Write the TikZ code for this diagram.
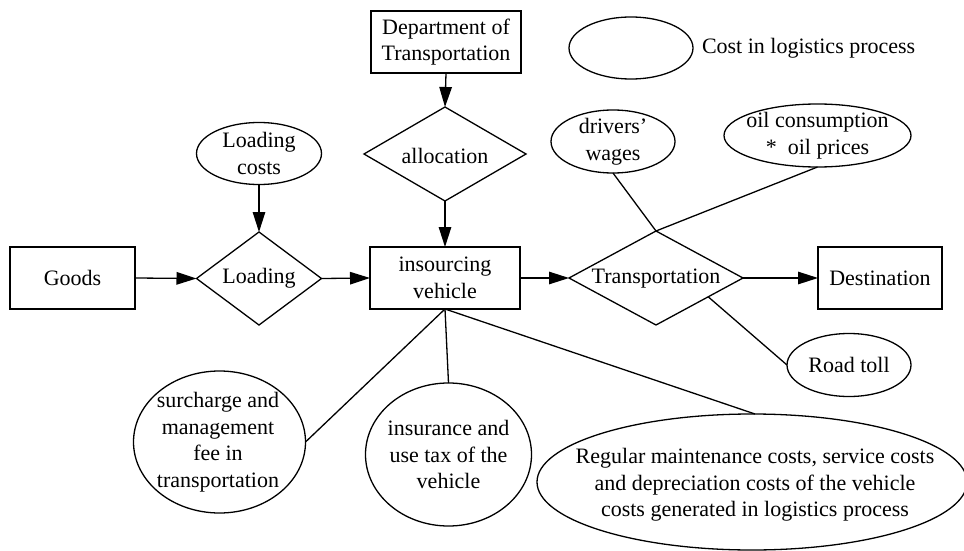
\documentclass[tikz,border=0pt]{standalone}
\usepackage{fontspec}
\setmainfont{Liberation Serif}
\usetikzlibrary{shapes.geometric,arrows.meta,calc}
\begin{document}
\begin{tikzpicture}[x=1pt,y=-1pt,
  every node/.style={inner sep=0pt, outer sep=0pt},
  base/.style={draw=black, line width=1.3pt},
  boxnode/.style={base, rectangle},
  ellnode/.style={base, ellipse},
  dianode/.style={base, diamond},
  txt/.style={align=center, font=\fontsize{22}{26.5}\selectfont},
  arr/.style={line width=1.3pt, -{Triangle[length=20pt,width=12.5pt]}},
  link/.style={line width=1.3pt}]
\useasboundingbox (0,0) rectangle (964,551);

% top row
\node[boxnode, txt, minimum width=150pt, minimum height=62pt] (dept) at (446,42) {Department of\\Transportation};
\node[ellnode, minimum width=124pt, minimum height=62pt] (legend) at (631,48) {};
\node[txt, anchor=west] (legendtxt) at (702,48) {Cost in logistics process};

% second row
\node[ellnode, minimum width=125pt, minimum height=62pt] (lcost) at (259,153.5) {};
\node[txt] (lcosttxt) at (lcost) {Loading\\costs};
\node[dianode, minimum width=162pt, minimum height=94pt] (alloc) at (445,154) {};
\node[txt] (alloctxt) at (445,155.5) {allocation};
\node[ellnode, minimum width=124pt, minimum height=63pt] (dw) at (613,141.5) {};
\node[txt] (dwtxt) at (dw) {drivers’\\wages};
\node[ellnode, minimum width=187pt, minimum height=63pt] (oil) at (817.5,135.5) {};
\node[txt] (oiltxt) at (oil) {oil consumption\\*\ \ oil prices};

% main row
\node[boxnode, txt, minimum width=125pt, minimum height=62pt] (goods) at (72.5,278) {Goods};
\node[dianode, minimum width=125pt, minimum height=93pt] (load) at (259,278.5) {};
\node[txt] (loadtxt) at (259,278.5) {Loading};
\node[boxnode, txt, minimum width=150pt, minimum height=62pt] (veh) at (445,278) {insourcing\\vehicle};
\node[dianode, minimum width=174pt, minimum height=94pt] (trans) at (656,278) {};
\node[txt] (transtxt) at (656,279) {Transportation};
\node[boxnode, txt, minimum width=124pt, minimum height=62pt] (dest) at (880,278) {Destination};

% lower cost nodes
\node[ellnode, minimum width=124pt, minimum height=63pt] (rt) at (849,365) {};
\node[txt] (rttxt) at (rt) {Road toll};
\node[ellnode, minimum width=172pt, minimum height=142pt] (sur) at (219.5,442) {};
\node[txt] (surtxt) at (218,442) {surcharge and\\management\\fee in\\transportation};
\node[ellnode, minimum width=166pt, minimum height=143pt] (ins) at (448.5,454.5) {};
\node[txt] (instxt) at (ins) {insurance and\\use tax of the\\vehicle};
\node[ellnode, minimum width=430pt, minimum height=136pt] (reg) at (752,482) {};
\node[txt] (regtxt) at (755,485) {Regular maintenance costs, service costs\\and depreciation costs of the vehicle\\costs generated in logistics process};

% arrows
\draw[arr] (dept.south) -- (alloc.north);
\draw[arr] (lcost.south) -- (load.north);
\draw[arr] (alloc.south) -- (veh.north);
\draw[arr] (goods.east) -- (load.west);
\draw[arr] (load.east) -- (veh.west);
\draw[arr] (veh.east) -- (trans.west);
\draw[arr] (trans.east) -- (dest.west);

% plain links
\draw[link] (trans.north) -- (dw.south);
\draw[link] (trans.north) -- (oil.south);
\draw[link] ($(trans.south)!0.6!(trans.east)$) -- (rt.west);
\draw[link] (veh.south) -- (sur.east);
\draw[link] (veh.south) -- (ins.north);
\draw[link] (veh.south) -- ([xshift=3pt]reg.north);
\end{tikzpicture}
\end{document}
